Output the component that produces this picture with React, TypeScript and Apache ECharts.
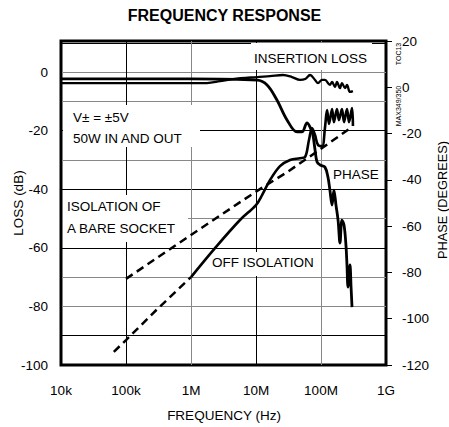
import React, { useEffect, useRef } from "react";
import * as echarts from "echarts";

const FONT = '"Liberation Sans", Arial, Helvetica, sans-serif';

// X axis ticks (Hz) and their labels
const X_TICKS = [1e4, 1e5, 1e6, 1e7, 1e8, 1e9];
const X_TICK_LABELS = ["10k", "100k", "1M", "10M", "100M", "1G"];

// Left axis (LOSS dB) labelled ticks
const LOSS_TICKS = [0, -20, -40, -60, -80, -100];

// [frequency Hz, loss dB]
const insertionLoss = [
  [1e4, -3.75], [2.34e5, -3.75], [1.76e6, -3.75], [2.8e6, -3.1], [4.4e6, -2.4],
  [1.04e7, -1.7], [1.64e7, -1.4], [2.6e7, -1.0], [3.58e7, -1.7], [4.75e7, -2.7],
  [5.7e7, -2.4], [6.78e7, -1.0], [8.1e7, -2.7], [9.0e7, -3.75], [1.04e8, -2.7],
  [1.15e8, -2.7], [1.37e8, -4.4], [1.48e8, -3.4], [1.64e8, -5.1], [1.76e8, -3.4],
  [1.96e8, -5.5], [2.1e8, -3.75], [2.34e8, -5.5], [2.51e8, -4.4], [2.79e8, -6.8],
  [3.1e8, -6.5],
];

// [frequency Hz, phase degrees]
const phase = [
  [1e4, 3.6], [1e6, 3.6], [1.04e7, 3.1], [1.48e7, 1.0], [2.1e7, -5.5],
  [3.0e7, -14.1], [4.28e7, -19.3], [5.1e7, -19.3], [6.1e7, -15.4], [6.78e7, -17.2],
  [7.5e7, -20.6], [8.1e7, -27.1], [8.7e7, -32.3], [9.7e7, -33.6], [1.15e8, -34.5],
  [1.28e8, -38.8], [1.37e8, -44.4], [1.48e8, -50.9], [1.58e8, -44.4], [1.7e8, -50.9],
  [1.83e8, -57.4], [1.96e8, -67.3], [2.1e8, -57.4], [2.26e8, -59.5], [2.42e8, -68.2],
  [2.51e8, -76.8], [2.6e8, -86.3], [2.79e8, -76.8], [2.9e8, -86.3], [3.0e8, -95],
];

// [frequency Hz, dB] off isolation, dashed low-frequency part
const offIsolationLow = [
  [6.5e4, -95.5], [1e5, -91.5], [3e5, -81], [1e6, -70],
];

// [frequency Hz, dB] off isolation, measured solid part
const offIsolation = [
  [1e6, -70], [2.34e6, -60.1], [5.67e6, -50.5], [1e7, -45.4], [1.24e7, -42],
  [1.64e7, -36.9], [2.34e7, -32.1], [3.34e7, -30], [4.75e7, -29.4], [5.68e7, -29],
  [6.53e7, -23.2], [7.27e7, -19.1], [8.09e7, -21.5], [9.0e7, -24.9], [1.04e8, -25.3],
  [1.15e8, -19.1], [1.24e8, -13], [1.33e8, -17.7], [1.48e8, -12.6], [1.58e8, -17.1],
  [1.76e8, -12.6], [1.89e8, -16.4], [2.1e8, -12.6], [2.26e8, -17.1], [2.51e8, -12.6],
  [2.7e8, -17.1], [3.0e8, -12.3], [3.1e8, -18.4],
];

// [frequency Hz, dB] isolation of a bare socket
const bareSocket = [
  [1e5, -70.6], [1e6, -55.6], [1e7, -40.8], [3e7, -34.2], [1e8, -26.2], [2.8e8, -19.2],
];

const V_GRID_COLORS = ["#000", "#000", "#888", "#000", "#888", "#000"];
const H_GRID_COLORS = ["#000", "#000", "#888", "#888", "#000", "#888", "#000", "#888", "#000", "#888", "#888", "#000", "#000"];

function txt(text: string, x: number, y: number, size = 13.5, extra: any = {}) {
  return {
    type: "text",
    x,
    y,
    z: 1.5,
    ...extra,
    style: {
      text,
      font: `${size}px ${FONT}`,
      fill: "#000",
      align: extra.align || "left",
      verticalAlign: "middle",
    },
  };
}

function box(x: number, y: number, w: number, h: number) {
  return { type: "rect", z: 1, shape: { x, y, width: w, height: h }, style: { fill: "#fff" } };
}

const solid = (width: number) => ({ color: "#000", width, type: "solid" as const });
const dashed = { color: "#000", width: 2.5, type: [8, 5] };

export default function App() {
  const ref = useRef<HTMLDivElement>(null);
  useEffect(() => {
    const chart = echarts.init(ref.current!, undefined, { renderer: "svg" });
    const option: any = {
      animation: false,
      textStyle: { fontFamily: FONT },
      grid: { left: 61, right: 63, top: 41, bottom: 62, show: true, borderColor: "#000", borderWidth: 3 },
      xAxis: {
        type: "log",
        logBase: 10,
        min: X_TICKS[0],
        max: X_TICKS[X_TICKS.length - 1],
        axisLine: { show: false },
        axisTick: { show: false },
        minorTick: { show: false },
        axisLabel: {
          color: "#000",
          fontSize: 13.5,
          margin: 18,
          formatter: (v: number) => {
            const i = X_TICKS.findIndex((t) => Math.abs(Math.log10(t) - Math.log10(v)) < 1e-6);
            return i >= 0 ? X_TICK_LABELS[i] : "";
          },
        },
        splitLine: { show: true, lineStyle: { color: V_GRID_COLORS, width: 1 } },
      },
      yAxis: [
        {
          type: "value",
          position: "left",
          min: -100,
          max: 10.6,
          interval: 10,
          axisLine: { show: false },
          axisTick: { show: false },
          axisLabel: {
            color: "#000",
            fontSize: 13.5,
            margin: 13,
            formatter: (v: number) => (LOSS_TICKS.includes(v) ? String(v) : ""),
          },
          splitLine: { show: true, lineStyle: { color: H_GRID_COLORS, width: 1 } },
        },
        {
          type: "value",
          position: "right",
          min: -120,
          max: 20,
          interval: 20,
          axisLine: { show: false },
          axisTick: { show: true, inside: false, length: 6, lineStyle: { color: "#000", width: 1 } },
          axisLabel: { color: "#000", fontSize: 13.5, margin: 16 },
          splitLine: { show: false },
        },
      ],
      series: [
        { name: "INSERTION LOSS", type: "line", data: insertionLoss, yAxisIndex: 0, showSymbol: false, symbol: "none", smooth: 0.35, lineStyle: solid(2.3) },
        { name: "PHASE", type: "line", data: phase, yAxisIndex: 1, showSymbol: false, symbol: "none", smooth: 0.35, lineStyle: solid(2.8) },
        { name: "OFF ISOLATION", type: "line", data: offIsolation, yAxisIndex: 0, showSymbol: false, symbol: "none", smooth: 0.35, lineStyle: solid(2.6) },
        { name: "OFF ISOLATION (low)", type: "line", data: offIsolationLow, yAxisIndex: 0, showSymbol: false, symbol: "none", lineStyle: dashed },
        { name: "ISOLATION OF A BARE SOCKET", type: "line", data: bareSocket, yAxisIndex: 0, showSymbol: false, symbol: "none", lineStyle: dashed },
      ],
      graphic: [
        txt("FREQUENCY RESPONSE", 224.5, 15, 16, { align: "center", style: {} }),
        box(251, 43, 121, 27),
        box(63, 105, 137, 42),
        box(63, 195, 125, 47),
        box(209, 252, 109, 24),
        txt("INSERTION LOSS", 254, 58),
        txt("V\u00b1 = \u00b15V", 73, 117.5),
        txt("50W IN AND OUT", 73, 138),
        txt("ISOLATION OF", 67, 206),
        txt("A BARE SOCKET", 67, 228),
        txt("PHASE", 333, 174),
        txt("OFF ISOLATION", 212, 262.5),
        txt("TOC13", 398, 54, 7, { align: "center", rotation: Math.PI / 2 }),
        txt("MAX349/350", 398, 106, 7, { align: "center", rotation: Math.PI / 2 }),
        txt("LOSS (dB)", 18, 203, 13.5, { align: "center", rotation: Math.PI / 2 }),
        txt("PHASE (DEGREES)", 442, 200, 12.8, { align: "center", rotation: Math.PI / 2 }),
        txt("FREQUENCY (Hz)", 224, 415, 13.5, { align: "center" }),
      ],
    };
    // bold title
    option.graphic[0].style.font = `bold 16px ${FONT}`;
    chart.setOption(option);
    return () => chart.dispose();
  }, []);
  return <div ref={ref} style={{ position: "absolute", left: 0, top: 0, width: 449, height: 427 }} />;
}
